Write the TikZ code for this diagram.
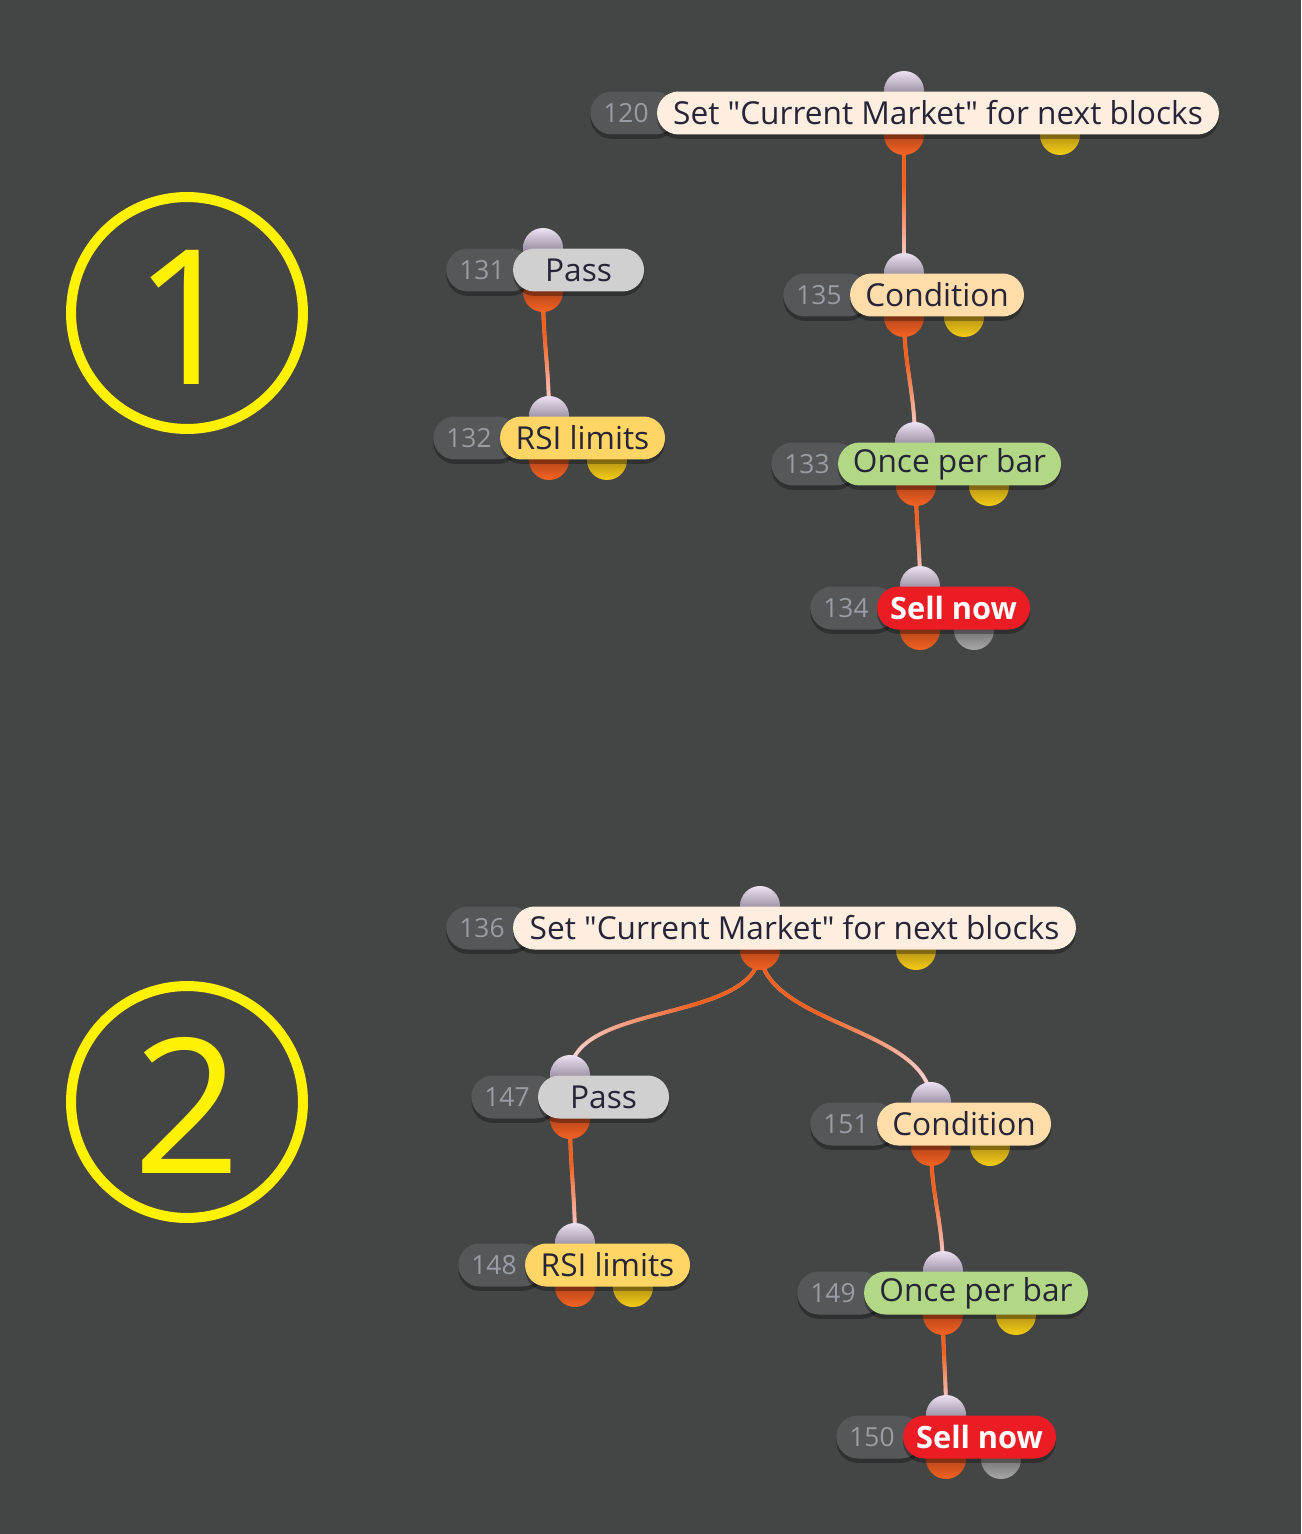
\documentclass[tikz,border=0pt]{standalone}
\usepackage{fontspec}
\setmainfont{Open Sans}
\usepackage{tikz}
\usetikzlibrary{positioning,backgrounds,shadows,decorations.markings}
\definecolor{canvas}{RGB}{68,69,69}
\definecolor{numfill}{RGB}{86,87,88}
\definecolor{numtext}{RGB}{152,157,163}
\definecolor{labeltext}{RGB}{38,36,56}
\definecolor{setfill}{RGB}{253,238,224}
\definecolor{passfill}{RGB}{208,208,208}
\definecolor{rsifill}{RGB}{255,214,102}
\definecolor{condfill}{RGB}{255,221,170}
\definecolor{oncefill}{RGB}{178,216,134}
\definecolor{sellfill}{RGB}{236,28,36}
\definecolor{ringyellow}{RGB}{255,242,0}
\definecolor{wireorange}{RGB}{242,96,30}
\definecolor{wirepale}{RGB}{244,230,242}
\definecolor{inlight}{RGB}{236,226,242}
\definecolor{indark}{RGB}{88,78,98}
\definecolor{outlight}{RGB}{246,100,34}
\definecolor{outdark}{RGB}{120,40,20}
\definecolor{condlight}{RGB}{246,206,18}
\definecolor{conddark}{RGB}{118,88,30}
\definecolor{greylight}{RGB}{168,168,168}
\definecolor{greydark}{RGB}{66,66,66}

\begin{document}
\begin{tikzpicture}[
  x=0.02cm, y=-0.02cm,
  shade/.style={drop shadow={shadow xshift=0pt, shadow yshift=-2.5pt, opacity=0.3, fill=black}},
  numbox/.style={rectangle, rounded corners=0.43cm, shade, fill=numfill, text=numtext, font=\fontsize{15}{17}\selectfont, minimum height=0.86cm, text width=1.2cm, inner xsep=0.26cm, inner ysep=0pt, align=left, anchor=west},
  blockbox/.style={rectangle, rounded corners=0.43cm, shade, text=labeltext, font=\fontsize{18}{20}\selectfont, minimum height=0.86cm, inner xsep=0pt, inner ysep=0pt},
  sellbox/.style={blockbox, fill=sellfill, text=white, font=\fontsize{17.5}{20}\selectfont\bfseries},
  inport/.style={circle, minimum size=0.8cm, inner sep=0pt, top color=inlight, bottom color=indark},
  outport/.style={circle, minimum size=0.8cm, inner sep=0pt, top color=outdark, bottom color=outlight},
  condport/.style={outport, top color=conddark, bottom color=condlight},
  greyport/.style={outport, top color=greydark, bottom color=greylight},
  wire/.style={line width=2.2pt, draw=wireorange!60!wirepale,
    postaction={decorate, decoration={markings, mark=between positions 0 and 1 step 0.5pt with {%
      \pgfmathsetmacro\wiremix{max(0,min(100,160*(1-\pgfkeysvalueof{/pgf/decoration/mark info/distance from start}/\pgfdecoratedpathlength)))}%
      \fill[wireorange!\wiremix!wirepale] (0,0) circle (1.1pt);}}}},
  ring/.style={circle, draw=ringyellow, line width=5.7pt, minimum size=4.64cm, inner sep=0pt, text=ringyellow, font=\fontsize{107}{107}\selectfont, text height=2.88cm, text depth=0pt}
]
\begin{scope}[on background layer]
\fill[canvas] (0,0) rectangle (1301,1534);
\end{scope}

% markers
\node[ring] (one) at (187,313) {1};
\node[ring] (two) at (187,1102) {2};

% group 1
\node[inport] (i120) at (904,91) {};
\node[outport] (o120) at (904,135) {};
\node[condport] (c120) at (1060,135) {};
\node[numbox] (n120) at (590,113) {120};
\node[blockbox, fill=setfill, minimum width=11.24cm, right=-0.4cm of n120] (b120) {Set \textquotedbl Current Market\textquotedbl{} for next blocks};

\node[inport] (i131) at (543,248) {};
\node[outport] (o131) at (543,292) {};
\node[numbox] (n131) at (446,270) {131};
\node[blockbox, fill=passfill, minimum width=2.62cm, right=-0.4cm of n131] (b131) {Pass};

\node[inport] (i132) at (549,416) {};
\node[outport] (o132) at (549,460) {};
\node[condport] (c132) at (607,460) {};
\node[numbox] (n132) at (433,438) {132};
\node[blockbox, fill=rsifill, minimum width=3.3cm, right=-0.4cm of n132] (b132) {RSI limits};

\node[inport] (i135) at (904,273) {};
\node[outport] (o135) at (904,317) {};
\node[condport] (c135) at (964,317) {};
\node[numbox] (n135) at (783,295) {135};
\node[blockbox, fill=condfill, minimum width=3.48cm, right=-0.4cm of n135] (b135) {Condition};

\node[inport] (i133) at (915,442) {};
\node[outport] (o133) at (916,486) {};
\node[condport] (c133) at (989,486) {};
\node[numbox] (n133) at (771,464) {133};
\node[blockbox, fill=oncefill, minimum width=4.46cm, right=-0.4cm of n133] (b133) {Once per bar};

\node[inport] (i134) at (920,586) {};
\node[outport] (o134) at (920,630) {};
\node[greyport] (g134) at (974,630) {};
\node[numbox] (n134) at (810,608) {134};
\node[sellbox, minimum width=3.06cm, right=-0.4cm of n134] (b134) {Sell now};

% group 2
\node[inport] (i136) at (760,906) {};
\node[outport] (o136) at (760,950) {};
\node[condport] (c136) at (916,950) {};
\node[numbox] (n136) at (446,928) {136};
\node[blockbox, fill=setfill, minimum width=11.26cm, right=-0.4cm of n136] (b136) {Set \textquotedbl Current Market\textquotedbl{} for next blocks};

\node[inport] (i147) at (570,1075) {};
\node[outport] (o147) at (570,1119) {};
\node[numbox] (n147) at (471,1097) {147};
\node[blockbox, fill=passfill, minimum width=2.62cm, right=-0.4cm of n147] (b147) {Pass};

\node[inport] (i148) at (575,1243) {};
\node[outport] (o148) at (575,1287) {};
\node[condport] (c148) at (633,1287) {};
\node[numbox] (n148) at (458,1265) {148};
\node[blockbox, fill=rsifill, minimum width=3.3cm, right=-0.4cm of n148] (b148) {RSI limits};

\node[inport] (i151) at (931,1102) {};
\node[outport] (o151) at (931,1146) {};
\node[condport] (c151) at (990,1146) {};
\node[numbox] (n151) at (810,1124) {151};
\node[blockbox, fill=condfill, minimum width=3.48cm, right=-0.4cm of n151] (b151) {Condition};

\node[inport] (i149) at (943,1271) {};
\node[outport] (o149) at (943,1315) {};
\node[condport] (c149) at (1016,1315) {};
\node[numbox] (n149) at (797,1293) {149};
\node[blockbox, fill=oncefill, minimum width=4.48cm, right=-0.4cm of n149] (b149) {Once per bar};

\node[inport] (i150) at (946,1415) {};
\node[outport] (o150) at (946,1459) {};
\node[greyport] (g150) at (1001,1459) {};
\node[numbox] (n150) at (836,1437) {150};
\node[sellbox, minimum width=3.06cm, right=-0.4cm of n150] (b150) {Sell now};

% wires, behind the ports
\begin{scope}[on background layer]
\draw[wire] (o120.center) .. controls +(0,50) and +(0,-50) .. (i135.center);
\draw[wire] (o131.center) .. controls +(0,50) and +(0,-50) .. (i132.center);
\draw[wire] (o135.center) .. controls +(0,50) and +(0,-50) .. (i133.center);
\draw[wire] (o133.center) .. controls +(0,40) and +(0,-40) .. (i134.center);
\draw[wire] (o136.center) .. controls +(0,75) and +(0,-75) .. (i147.center);
\draw[wire] (o136.center) .. controls +(0,75) and +(0,-75) .. (i151.center);
\draw[wire] (o147.center) .. controls +(0,50) and +(0,-50) .. (i148.center);
\draw[wire] (o151.center) .. controls +(0,50) and +(0,-50) .. (i149.center);
\draw[wire] (o149.center) .. controls +(0,40) and +(0,-40) .. (i150.center);
\end{scope}
\end{tikzpicture}
\end{document}
